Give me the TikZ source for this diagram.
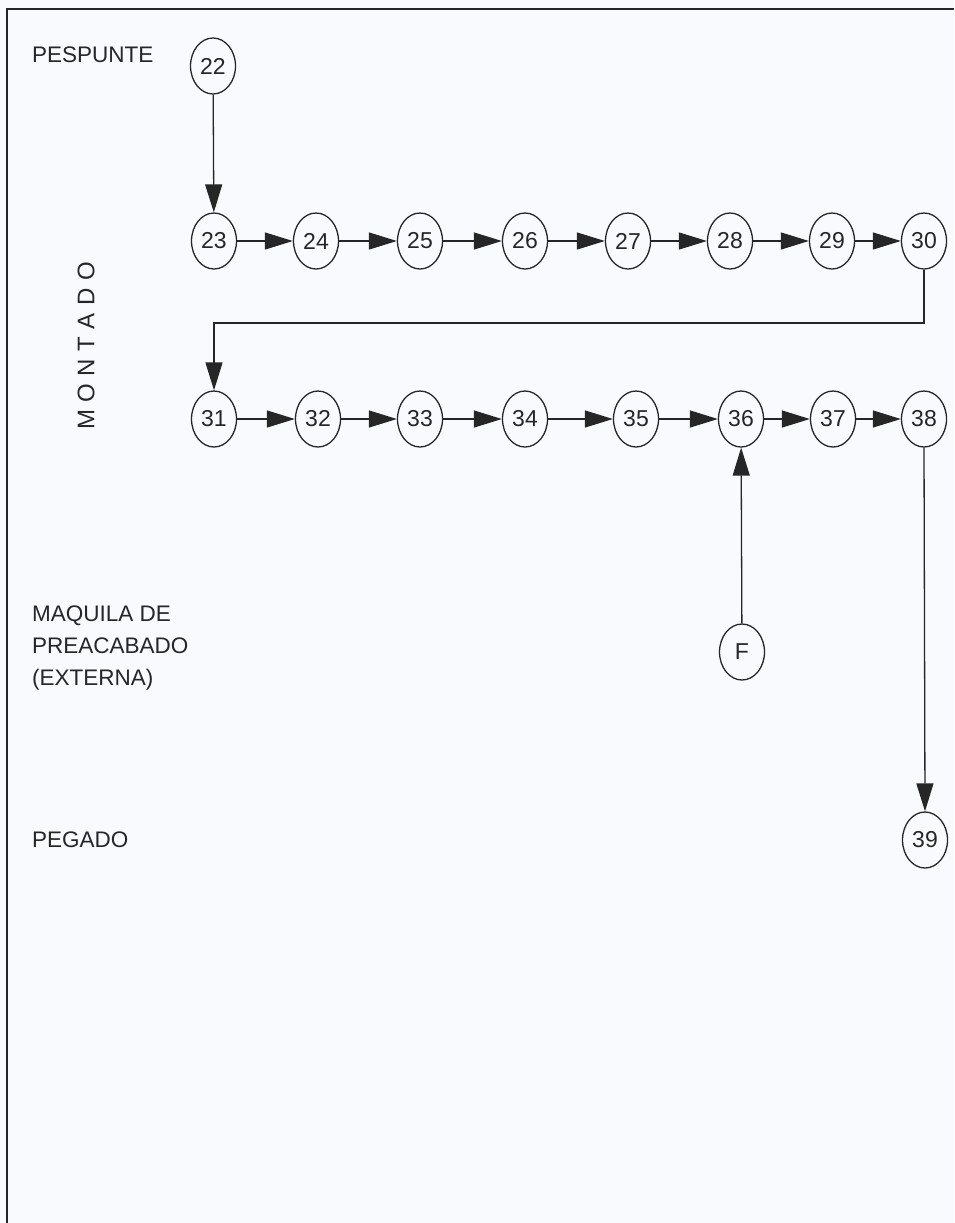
\documentclass[tikz,border=0pt]{standalone}
\usepackage{fontspec}
\setmainfont{Liberation Sans}
\usetikzlibrary{arrows.meta,shapes.geometric}
\definecolor{bgcol}{HTML}{F8FAFD}
\definecolor{ink}{HTML}{262626}
\begin{document}
\begin{tikzpicture}[x=1pt,y=-1pt,
  op/.style={draw=ink, line width=1.3pt, ellipse, minimum width=45pt, minimum height=56pt, inner sep=0pt, font=\fontsize{23}{26}\selectfont, text=ink},
  flow/.style={draw=ink, line width=1.3pt, -{Triangle[length=28pt,width=17pt]}},
  lbl/.style={anchor=west, font=\fontsize{22.5}{32}\selectfont, align=left, text=ink, inner sep=0pt}
]
\fill[bgcol] (0,0) rectangle (954,1223);
\useasboundingbox (0,0) rectangle (954,1223);
\draw[line width=2pt, ink] (7,1223) -- (7,9) -- (954,9);

% labels
\node[lbl] (lpes) at (32,55) {PESPUNTE};
\node[lbl] (lmaq) at (32,648) {MAQUILA DE\\PREACABADO\\(EXTERNA)};
\node[lbl] (lpeg) at (32,840) {PEGADO};
\node[font=\fontsize{24}{26}\selectfont, text=ink, rotate=90, inner sep=0pt] (lmon) at (86,346)
  {M\hspace{7.5pt}O\hspace{7.5pt}N\hspace{7.5pt}T\hspace{7.5pt}A\hspace{7.5pt}D\hspace{7.5pt}O};

% nodes
\node[op] (n22) at (213,66) {22};
\node[op] (n23) at (214,241) {23};
\node[op] (n24) at (316,241) {24};
\node[op] (n25) at (420,241) {25};
\node[op] (n26) at (525,241) {26};
\node[op] (n27) at (628,241) {27};
\node[op] (n28) at (730,241) {28};
\node[op] (n29) at (832,241) {29};
\node[op] (n30) at (924,241) {30};
\node[op] (n31) at (214,419) {31};
\node[op] (n32) at (318,419) {32};
\node[op] (n33) at (420,419) {33};
\node[op] (n34) at (525,419) {34};
\node[op] (n35) at (636,419) {35};
\node[op] (n36) at (741,419) {36};
\node[op] (n37) at (833,419) {37};
\node[op] (n38) at (924,419) {38};
\node[op] (nF) at (742,652) {F};
\node[op] (n39) at (925,840) {39};

\coordinate (c1) at (924,323);
\coordinate (c2) at (214,323);

% connectors
\draw[flow] (n22) -- (n23);
\draw[flow] (n23) -- (n24);
\draw[flow] (n24) -- (n25);
\draw[flow] (n25) -- (n26);
\draw[flow] (n26) -- (n27);
\draw[flow] (n27) -- (n28);
\draw[flow] (n28) -- (n29);
\draw[flow] (n29) -- (n30);
\draw[flow] (n30.south) -- (c1) -- (c2) -- (n31.north);
\draw[flow] (n31) -- (n32);
\draw[flow] (n32) -- (n33);
\draw[flow] (n33) -- (n34);
\draw[flow] (n34) -- (n35);
\draw[flow] (n35) -- (n36);
\draw[flow] (n36) -- (n37);
\draw[flow] (n37) -- (n38);
\draw[flow] (nF) -- (n36);
\draw[flow] (n38.south) -- (n39.north);
\end{tikzpicture}
\end{document}
